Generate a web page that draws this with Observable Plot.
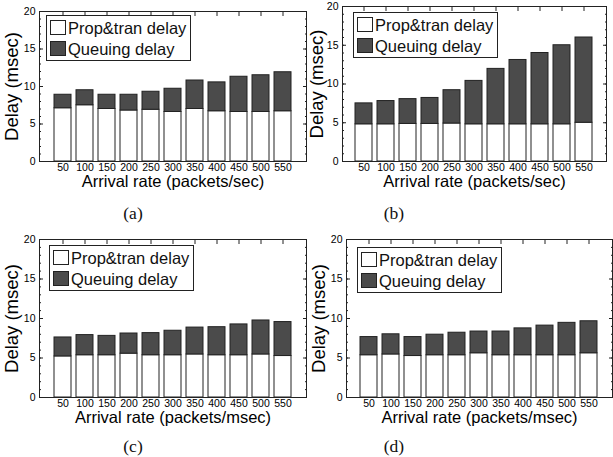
<!DOCTYPE html>
<html>
<head>
<meta charset="utf-8">
<script src="https://cdn.jsdelivr.net/npm/d3@7"></script>
<script src="https://cdn.jsdelivr.net/npm/@observablehq/plot@0.6"></script>
<style>
  html, body { margin: 0; padding: 0; background: white; }
  #root { position: relative; width: 613px; height: 457px; overflow: hidden; font-family: 'Liberation Sans', Arial, sans-serif; }
  .pan { position: absolute; }
  .legend { position: absolute; background: white; border: 1px solid #222; padding: 1px 4px 1px 3px; font-size: 16.5px; color: #111; line-height: 20px; }
  .legend .row { display: flex; align-items: center; height: 21px; white-space: nowrap; }
  .legend .sw { width: 16px; height: 15px; border: 1px solid #222; margin-right: 2px; box-sizing: border-box; }
  .cap { position: absolute; font-family: 'Liberation Serif', 'Times New Roman', serif; font-size: 17.5px; color: #111; transform: translate(-50%, -50%); }
</style>
</head>
<body>
<div id="root"></div>
<script>
// ---- data ----
const rates = ["50", "100", "150", "200", "250", "300", "350", "400", "450", "500", "550"];
const propA  = [7.1, 7.5, 7.0, 6.8, 6.9, 6.6, 7.0, 6.7, 6.6, 6.6, 6.7];
const totalA = [8.9, 9.5, 8.9, 8.9, 9.3, 9.7, 10.8, 10.55, 11.3, 11.5, 11.9];
const propB  = [4.8, 4.8, 4.85, 4.85, 4.9, 4.8, 4.8, 4.8, 4.8, 4.8, 5.0];
const totalB = [7.5, 7.8, 8.05, 8.2, 9.2, 10.4, 11.95, 13.1, 14.0, 15.0, 16.0];
const propC  = [5.2, 5.35, 5.35, 5.55, 5.35, 5.35, 5.45, 5.35, 5.35, 5.45, 5.25];
const totalC = [7.6, 7.9, 7.8, 8.1, 8.15, 8.45, 8.85, 8.9, 9.25, 9.75, 9.55];
const propD  = [5.35, 5.45, 5.25, 5.35, 5.35, 5.6, 5.35, 5.35, 5.35, 5.35, 5.6];
const totalD = [7.65, 8.0, 7.65, 7.95, 8.2, 8.35, 8.35, 8.75, 9.1, 9.45, 9.65];
const xLabels = ["Arrival rate (packets/sec)", "Arrival rate (packets/sec)", "Arrival rate (packets/msec)", "Arrival rate (packets/msec)"];
const yLabel = "Delay (msec)";
const legendLabels = ["Prop&tran delay", "Queuing delay"];
const captions = ["(a)", "(b)", "(c)", "(d)"];
const yTicks = [0, 5, 10, 15, 20];
const yMinor = d3.range(0, 21, 1);

const darkFill = "#4b4b4b";
const lineCol = "#222";

// ---- layout ----
const panels = [
  {prop: propA, total: totalA, left: 0,   top: 0,   w: 310, ml: 39, mr: 4, mt: 11, fb: 161, ylo: 35, ydy: -6, leg: [46, 15],  cap: [133, 213]},
  {prop: propB, total: totalB, left: 300, top: 0,   w: 313, ml: 42, mr: 7, mt: 6,  fb: 161, ylo: 33, ydy: -4, leg: [353, 12], cap: [394, 213]},
  {prop: propC, total: totalC, left: 0,   top: 228, w: 310, ml: 39, mr: 4, mt: 11, fb: 169, ylo: 35, ydy: -4, leg: [49, 245], cap: [133, 446]},
  {prop: propD, total: totalD, left: 300, top: 228, w: 313, ml: 46, mr: 1, mt: 11, fb: 169, ylo: 35, ydy: -4, leg: [357, 247], cap: [394, 446]}
];

const root = document.getElementById("root");
const H = 200;

panels.forEach((cfg, idx) => {
  const rows = rates.map((r, i) => ({rate: r, prop: cfg.prop[i], total: cfg.total[i]}));
  const chart = Plot.plot({
    width: cfg.w,
    height: H,
    marginLeft: cfg.ml,
    marginRight: cfg.mr,
    marginTop: cfg.mt,
    marginBottom: H - cfg.fb,
    style: {background: "transparent", fontFamily: "'Liberation Sans', Arial, sans-serif", fontSize: "10.5px", color: "#000", overflow: "visible"},
    x: {type: "band", domain: rates, paddingInner: 0.21, paddingOuter: 0.575},
    y: {domain: [0, 20]},
    marks: [
      Plot.barY(rows, {x: "rate", y1: 0, y2: "prop", fill: "white", stroke: lineCol, strokeWidth: 1}),
      Plot.barY(rows, {x: "rate", y1: "prop", y2: "total", fill: darkFill, stroke: lineCol, strokeWidth: 1}),
      Plot.axisY(yMinor, {anchor: "left", tickSize: -2, tickFormat: () => "", label: null, stroke: lineCol}),
      Plot.axisY(yMinor, {anchor: "right", tickSize: -2, tickFormat: () => "", label: null, stroke: lineCol}),
      Plot.axisY(yTicks, {anchor: "left", tickSize: -4, tickPadding: 8, label: null, fontSize: 10.5, stroke: lineCol}),
      Plot.axisY(yTicks, {anchor: "right", tickSize: -4, tickFormat: () => "", label: null, stroke: lineCol}),
      Plot.axisY([], {anchor: "left", tickSize: 0, label: yLabel, labelAnchor: "center", labelArrow: "none", labelOffset: cfg.ylo, fontSize: 18.5, dy: cfg.ydy}),
      Plot.axisX({anchor: "top", tickSize: -4, tickFormat: () => "", label: null, stroke: lineCol}),
      Plot.axisX({anchor: "bottom", tickSize: 0, tickPadding: 2, label: null, fontSize: 10.5}),
      Plot.axisX([], {anchor: "bottom", tickSize: 0, label: xLabels[idx], labelAnchor: "center", labelArrow: "none", labelOffset: 25, fontSize: 16.5}),
      Plot.frame({stroke: lineCol, strokeWidth: 1})
    ]
  });
  const wrap = document.createElement("div");
  wrap.className = "pan";
  wrap.style.left = cfg.left + "px";
  wrap.style.top = cfg.top + "px";
  wrap.appendChild(chart);
  root.appendChild(wrap);

  const leg = document.createElement("div");
  leg.className = "legend";
  leg.style.left = cfg.leg[0] + "px";
  leg.style.top = cfg.leg[1] + "px";
  legendLabels.forEach((lab, j) => {
    const row = document.createElement("div");
    row.className = "row";
    const sw = document.createElement("div");
    sw.className = "sw";
    sw.style.background = j === 0 ? "white" : darkFill;
    const t = document.createElement("span");
    t.textContent = lab;
    row.appendChild(sw);
    row.appendChild(t);
    leg.appendChild(row);
  });
  root.appendChild(leg);

  const cap = document.createElement("div");
  cap.className = "cap";
  cap.style.left = cfg.cap[0] + "px";
  cap.style.top = cfg.cap[1] + "px";
  cap.textContent = captions[idx];
  root.appendChild(cap);
});
</script>
</body>
</html>
